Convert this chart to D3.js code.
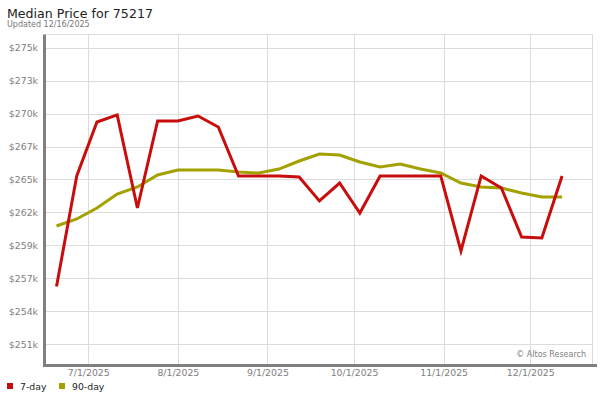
<!DOCTYPE html>
<html>
<head>
<meta charset="utf-8">
<script src="https://cdn.jsdelivr.net/npm/d3@7"></script>
<style>
  html, body { margin: 0; padding: 0; background: #fff; }
  svg { display: block; font-family: "DejaVu Sans", sans-serif; }
</style>
</head>
<body>
<svg id="chart" width="600" height="400"></svg>
<script>
// ---- data ----
const weekStart = "2025-06-20";           // first weekly observation
const sevenDay = [256000, 264950, 269320, 269890, 262360, 269400, 269400, 269800, 268910,
  264950, 264950, 264950, 264870, 262930, 264380, 261950, 264950, 264950, 264950, 264950,
  258880, 264950, 263980, 260010, 259930, 264950];
const ninetyDay = [260900, 261470, 262360, 263490, 264060, 265030, 265430, 265430, 265430,
  265270, 265190, 265510, 266160, 266730, 266650, 266080, 265680, 265920, 265510, 265190,
  264380, 264060, 263980, 263570, 263250, 263250];
const yTickValues = [251333.33, 254000, 256666.67, 259333.33, 262000, 264666.67,
  267333.33, 270000, 272666.67, 275333.33];
const xTickDates = ["2025-07-01", "2025-08-01", "2025-09-01", "2025-10-01", "2025-11-01", "2025-12-01"];
const seriesNames = ["7-day", "90-day"];
const seriesColors = ["#c80d0d", "#a3a100"];
const titleText = "Median Price for 75217";
const updatedText = "Updated 12/16/2025";
const creditText = "\u00a9 Altos Research";

// ---- layout ----
const pL = 46, pR = 593, pT = 34.5, pB = 364;
const svg = d3.select("#chart");
const parse = d3.timeParse("%Y-%m-%d");
const start = parse(weekStart);
const dates = sevenDay.map((_, i) => d3.timeDay.offset(start, 7 * i));

const x = d3.scaleTime()
  .domain([new Date(2025, 5, 16, 8, 38), new Date(2025, 11, 22, 17, 0)])
  .range([pL, pR]);
const y = d3.scaleLinear().domain([249733, 276400]).range([pB, pT]);

// background & grid
svg.append("rect").attr("x", pL).attr("y", pT).attr("width", pR - pL)
  .attr("height", pB - pT).attr("fill", "#fff");

const grid = svg.append("g").attr("stroke", "#dcdcdc").attr("stroke-width", 1);
grid.selectAll("line.h").data(yTickValues).join("line").attr("class", "h")
  .attr("x1", pL).attr("x2", pR)
  .attr("y1", d => Math.round(y(d)) + 0.5).attr("y2", d => Math.round(y(d)) + 0.5);
grid.selectAll("line.v").data(xTickDates.map(parse)).join("line").attr("class", "v")
  .attr("x1", d => Math.round(x(d)) + 0.5).attr("x2", d => Math.round(x(d)) + 0.5)
  .attr("y1", pT).attr("y2", pB);
// frame top / right
grid.append("line").attr("x1", pL).attr("x2", pR).attr("y1", pT).attr("y2", pT);
grid.append("line").attr("x1", pR - 0.5).attr("x2", pR - 0.5).attr("y1", pT).attr("y2", pB);

// axes (labels via d3 axis generators)
const yAxis = d3.axisLeft(y).tickValues(yTickValues)
  .tickFormat(d => "$" + Math.round(d / 1000) + "k").tickSize(0).tickPadding(8);
const gy = svg.append("g").attr("transform", `translate(${pL},0)`).call(yAxis);
gy.select(".domain").remove();
gy.selectAll("text").attr("fill", "#808080").style("font-size", "9.33px")
  .style("font-family", "DejaVu Sans, sans-serif");

const xAxis = d3.axisBottom(x).tickValues(xTickDates.map(parse))
  .tickFormat(d3.timeFormat("%-m/%-d/%Y")).tickSize(0).tickPadding(3.5);
const gx = svg.append("g").attr("transform", `translate(0,${pB + 2})`).call(xAxis);
gx.select(".domain").remove();
gx.selectAll("text").attr("fill", "#808080").style("font-size", "9.33px")
  .style("font-family", "DejaVu Sans, sans-serif");

// axis lines
svg.append("line").attr("x1", pL - 1.5).attr("x2", pL - 1.5).attr("y1", pT).attr("y2", pB + 2)
  .attr("stroke", "#808080").attr("stroke-width", 3);
svg.append("line").attr("x1", pL - 3).attr("x2", 597).attr("y1", pB + 1.5).attr("y2", pB + 1.5)
  .attr("stroke", "#808080").attr("stroke-width", 3);

// series
const line = d3.line().x((d, i) => x(dates[i])).y(d => y(d));
[ninetyDay, sevenDay].forEach((s, k) => {
  svg.append("path").datum(s).attr("d", line).attr("fill", "none")
    .attr("stroke", seriesColors[1 - k]).attr("stroke-width", 3)
    .attr("stroke-linejoin", "miter");
});

// credit
svg.append("text").attr("x", 586).attr("y", 357).attr("text-anchor", "end")
  .attr("fill", "#808080").style("font-size", "8px").text(creditText);

// title
svg.append("text").attr("x", 7).attr("y", 18).attr("fill", "#222")
  .style("font-size", "12.6px").text(titleText);
svg.append("text").attr("x", 7).attr("y", 27).attr("fill", "#777")
  .style("font-size", "8px").text(updatedText);

// legend
const legX = [7, 59];
const lg = svg.append("g");
seriesNames.forEach((n, i) => {
  lg.append("rect").attr("x", legX[i]).attr("y", 383).attr("width", 6).attr("height", 6)
    .attr("fill", seriesColors[i]);
  lg.append("text").attr("x", legX[i] + 13).attr("y", 389.5).attr("fill", "#222")
    .style("font-size", "9.33px").text(n);
});
</script>
</body>
</html>
